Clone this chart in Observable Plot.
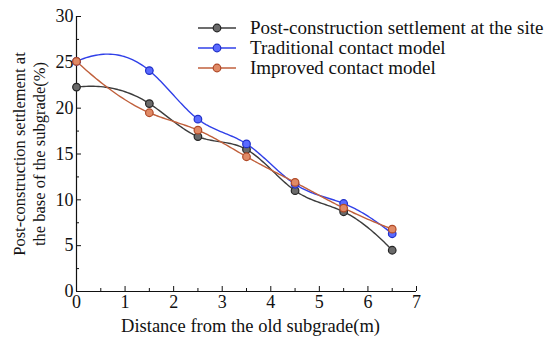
<!DOCTYPE html>
<html><head><meta charset="utf-8">
<script src="https://cdn.jsdelivr.net/npm/d3@7"></script>
<script src="https://cdn.jsdelivr.net/npm/@observablehq/plot@0.6"></script>
<style>
body{margin:0;background:#fff;}
#wrap{position:relative;width:550px;height:352px;font-family:"Liberation Serif","Times New Roman",serif;}
#legend{position:absolute;left:198px;top:18px;font-size:19px;color:#111;}
.row{display:flex;align-items:center;height:20px;white-space:nowrap;}
.row svg{margin-right:14px;}
</style>
</head><body><div id="wrap"><div id="legend"></div></div>
<script>
const distance = [0, 1.5, 2.5, 3.5, 4.5, 5.5, 6.5];
const site = [22.3, 20.5, 16.9, 15.5, 11.0, 8.7, 4.5];
const traditional = [25.1, 24.1, 18.8, 16.1, 11.7, 9.6, 6.3];
const improved = [25.1, 19.5, 17.6, 14.7, 11.9, 9.1, 6.8];
const seriesNames = ["Post-construction settlement at the site", "Traditional contact model", "Improved contact model"];
const xTicks = [0, 1, 2, 3, 4, 5, 6, 7];
const yTicks = [0, 5, 10, 15, 20, 25, 30];
const xMinor = [0.5, 1.5, 2.5, 3.5, 4.5, 5.5, 6.5];
const yMinor = [2.5, 7.5, 12.5, 17.5, 22.5, 27.5];
const xLabel = "Distance from the old subgrade(m)";
const yLabel = "Post-construction settlement at\nthe base of the subgrade(%)";

// cubic spline curve; end curvature = half of the neighbouring knot's (between natural and parabolic run-out)
function SplineCurve(context) { this._context = context; }
SplineCurve.prototype = {
  areaStart() { this._line = 0; },
  areaEnd() { this._line = NaN; },
  lineStart() { this._x = []; this._y = []; },
  point(x, y) { this._x.push(+x); this._y.push(+y); },
  lineEnd() {
    const X = this._x, Y = this._y, n = X.length, ctx = this._context;
    if (!n) return;
    ctx.moveTo(X[0], Y[0]);
    if (n < 4) { for (let i = 1; i < n; i++) ctx.lineTo(X[i], Y[i]); return; }
    const h = [], d = [];
    for (let i = 0; i < n - 1; i++) { h.push(X[i + 1] - X[i]); d.push((Y[i + 1] - Y[i]) / h[i]); }
    const A = Array.from({length: n}, () => new Array(n + 1).fill(0));
    A[0][0] = 1; A[0][1] = -0.5;
    for (let i = 1; i < n - 1; i++) {
      A[i][i - 1] = h[i - 1]; A[i][i] = 2 * (h[i - 1] + h[i]); A[i][i + 1] = h[i];
      A[i][n] = 6 * (d[i] - d[i - 1]);
    }
    A[n - 1][n - 2] = -0.5; A[n - 1][n - 1] = 1;
    for (let c = 0; c < n; c++) {
      let p = c; for (let r = c + 1; r < n; r++) if (Math.abs(A[r][c]) > Math.abs(A[p][c])) p = r;
      [A[c], A[p]] = [A[p], A[c]];
      for (let r = 0; r < n; r++) if (r !== c) {
        const f = A[r][c] / A[c][c];
        for (let k = c; k <= n; k++) A[r][k] -= f * A[c][k];
      }
    }
    const M = A.map((row, i) => row[n] / row[i]);
    for (let i = 0; i < n - 1; i++) {
      const hi = h[i], steps = 30;
      for (let s = 1; s <= steps; s++) {
        const x = X[i] + hi * s / steps, a = X[i + 1] - x, b = x - X[i];
        const y = M[i] * a * a * a / (6 * hi) + M[i + 1] * b * b * b / (6 * hi)
          + (Y[i] / hi - M[i] * hi / 6) * a + (Y[i + 1] / hi - M[i + 1] * hi / 6) * b;
        ctx.lineTo(x, y);
      }
    }
  }
};
const splineCurve = (context) => new SplineCurve(context);

const styles = [
  {line: "#3c3c3c", fill: "#6a6a6a", stroke: "#252525"},
  {line: "#3040e8", fill: "#5a6aff", stroke: "#2030c8"},
  {line: "#c0603c", fill: "#e08a66", stroke: "#b04a28"}
];
const values = [site, traditional, improved];
const series = values.map((v, i) => distance.map((d, j) => ({x: d, y: v[j], s: seriesNames[i]})));

const marks = [];
series.forEach((data, i) => {
  marks.push(Plot.line(data, {x: "x", y: "y", stroke: styles[i].line, strokeWidth: 1.4, curve: splineCurve}));
});
series.forEach((data, i) => {
  marks.push(Plot.dot(data, {x: "x", y: "y", r: 3.8, fill: styles[i].fill, stroke: styles[i].stroke, strokeWidth: 1.2}));
});

const chart = Plot.plot({
  width: 550, height: 352,
  marginLeft: 76, marginRight: 134, marginTop: 16, marginBottom: 61,
  style: {fontFamily: "Liberation Serif, Times New Roman, serif", fontSize: "18px", color: "#111", background: "transparent"},
  x: {domain: [0, 7]},
  y: {domain: [0, 30]},
  marks: [
    Plot.ruleX([0], {stroke: "#111", strokeWidth: 1.2}),
    Plot.ruleY([0], {stroke: "#111", strokeWidth: 1.2}),
    Plot.axisX({ticks: xTicks, tickSize: 5, dy: -5, tickFormat: () => "", label: null, stroke: "#111"}),
    Plot.axisX({ticks: xMinor, tickSize: 3, dy: -3, tickFormat: () => "", label: null, stroke: "#111"}),
    Plot.axisX({ticks: xTicks, tickSize: 0, tickPadding: 4, tickFormat: d3.format("d"), label: null, fontSize: 18}),
    Plot.axisY({ticks: yTicks, tickSize: 5, dx: 5, tickFormat: () => "", label: null, stroke: "#111"}),
    Plot.axisY({ticks: yMinor, tickSize: 3, dx: 3, tickFormat: () => "", label: null, stroke: "#111"}),
    Plot.axisY({ticks: yTicks, tickSize: 0, tickPadding: 3, tickFormat: d3.format("d"), label: null, fontSize: 18}),
    ...marks,
    Plot.text([xLabel], {frameAnchor: "bottom", dx: 4, dy: 40, fontSize: 18.5, fill: "#111"}),
    Plot.text([yLabel], {frameAnchor: "left", rotate: -90, dx: -48, dy: 0, fontSize: 16.5, lineHeight: 1.2, fill: "#111", textAnchor: "middle", lineAnchor: "middle"})
  ]
});
document.getElementById("wrap").prepend(chart);

const legend = document.getElementById("legend");
seriesNames.forEach((name, i) => {
  const row = document.createElement("div");
  row.className = "row";
  row.innerHTML = `<svg width="38" height="12"><line x1="0" x2="38" y1="6" y2="6" stroke="${styles[i].line}" stroke-width="1.4"/><circle cx="19" cy="6" r="3.8" fill="${styles[i].fill}" stroke="${styles[i].stroke}" stroke-width="1.2"/></svg><span>${name}</span>`;
  legend.appendChild(row);
});
</script></body></html>
